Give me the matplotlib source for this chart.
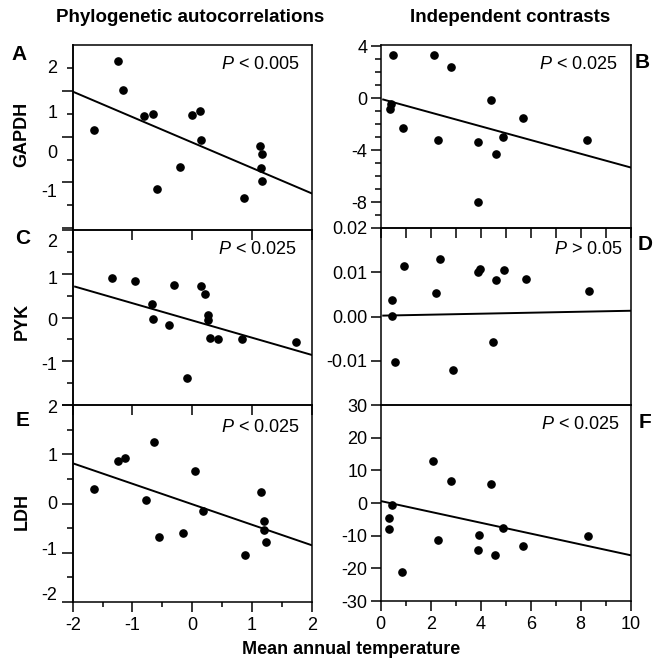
import matplotlib.pyplot as plt
import numpy as np

plt.rcParams['font.family'] = 'Liberation Sans'
plt.rcParams['font.size'] = 13
plt.rcParams['mathtext.fontset'] = 'custom'
plt.rcParams['mathtext.it'] = 'Liberation Sans:italic'
plt.rcParams['mathtext.rm'] = 'Liberation Sans'

# values
gapdh_phy_x = [-1.64, -1.25, -1.16, -0.80, -0.66, -0.59, -0.20, 0.00, 0.13, 0.15, 0.86, 1.13, 1.16, 1.15, 1.17]
gapdh_phy_y = [0.66, 2.17, 1.53, 0.96, 1.00, -0.64, -0.17, 0.97, 1.06, 0.43, -0.85, 0.29, 0.13, -0.19, -0.46]

gapdh_con_x = [0.48, 0.40, 0.38, 0.88, 2.12, 2.28, 2.83, 3.91, 3.88, 4.40, 4.61, 4.91, 5.69, 8.25]
gapdh_con_y = [3.31, -0.45, -0.86, -2.32, 3.36, -3.22, 2.41, -3.40, -8.00, -0.15, -4.32, -2.96, -1.53, -3.22]

pyk_phy_x = [-1.34, -0.95, -0.68, -0.66, -0.38, -0.30, -0.09, 0.15, 0.21, 0.27, 0.27, 0.30, 0.43, 0.84, 1.74]
pyk_phy_y = [0.91, 0.84, 0.32, -0.03, -0.16, 0.75, -1.38, 0.73, 0.54, 0.06, -0.06, -0.47, -0.50, -0.49, -0.57]

pyk_con_x = [0.47, 0.44, 0.57, 0.95, 2.20, 2.36, 2.88, 3.91, 3.97, 4.48, 4.63, 4.95, 5.80, 8.33]
pyk_con_y = [0.0037, 0.0001, -0.0103, 0.0115, 0.0054, 0.0131, -0.0122, 0.0100, 0.0107, -0.0057, 0.0083, 0.0105, 0.0085, 0.0057]

ldh_phy_x = [-1.64, -1.25, -1.13, -0.77, -0.64, -0.56, -0.15, 0.04, 0.18, 0.88, 1.15, 1.20, 1.20, 1.23]
ldh_phy_y = [0.30, 0.86, 0.92, 0.08, 1.25, -0.68, -0.60, 0.65, -0.16, -1.04, 0.23, -0.35, -0.53, -0.78]

ldh_con_x = [0.45, 0.35, 0.35, 0.85, 2.08, 2.29, 2.81, 3.89, 3.93, 4.40, 4.57, 4.89, 5.71, 8.28]
ldh_con_y = [-0.7, -4.5, -8.1, -21.0, 12.8, -11.2, 6.7, -14.3, -9.8, 5.9, -16.0, -7.8, -13.1, -10.2]

# regression lines: x start, x end, slope, intercept
fit_gapdh_phy = [-2.0, 2.0, -0.557, 0.376]
fit_gapdh_con = [0.1, 10.0, -0.529, -0.047]
fit_pyk_phy = [-1.96, 2.0, -0.394, -0.067]
fit_pyk_con = [0.1, 10.0, 0.000111, 0.00019]
fit_ldh_phy = [-2.0, 2.0, -0.416, -0.015]
fit_ldh_con = [0.0, 10.0, -1.66, 0.6]

p_labels = ['$P$ < 0.005', '$P$ < 0.025', '$P$ < 0.025', '$P$ > 0.05', '$P$ < 0.025', '$P$ < 0.025']

W, H = 662, 660
fig = plt.figure(figsize=(W / 100, H / 100), dpi=100)


def add_ax(x0, x1, y0, y1):
    ax = fig.add_axes([x0 / W, 1 - y1 / H, (x1 - x0) / W, (y1 - y0) / H])
    ax.patch.set_visible(False)
    for s in ax.spines.values():
        s.set_linewidth(1.1)
    return ax


def draw(ax, x, y, fit, ptxt, px, py):
    ax.plot(x, y, 'o', color='black', markersize=5.2, clip_on=False, zorder=3)
    xs = np.array(fit[:2])
    ax.plot(xs, fit[2] * xs + fit[3], color='black', lw=1.4)
    ax.text(px, py, ptxt, transform=ax.transAxes, ha='right', va='center', fontsize=13)


def left_y(ax, long_pos, short_pos, label_pos, labels):
    ax.set_yticks(label_pos, labels)
    ax.tick_params(axis='y', which='major', length=0, pad=11)
    ax.set_yticks(short_pos, minor=True)
    ax.tick_params(axis='y', which='minor', length=4.5, width=1.1)
    sec = ax.secondary_yaxis('left')
    sec.set_yticks(long_pos)
    sec.tick_params(length=8, width=1.1, labelleft=False)
    sec.spines['left'].set_linewidth(1.1)


xl0, xl1 = 72.7, 311.7
xr0, xr1 = 380.7, 630.7

axA = add_ax(xl0, xl1, 45, 230)
axB = add_ax(xr0, xr1, 45, 228)
axC = add_ax(xl0, xl1, 230, 405)
axD = add_ax(xr0, xr1, 228, 405)
axE = add_ax(xl0, xl1, 405, 602)
axF = add_ax(xr0, xr1, 405, 601)

draw(axA, gapdh_phy_x, gapdh_phy_y, fit_gapdh_phy, p_labels[0], 0.951, 0.897)
draw(axB, gapdh_con_x, gapdh_con_y, fit_gapdh_con, p_labels[1], 0.949, 0.891)
draw(axC, pyk_phy_x, pyk_phy_y, fit_pyk_phy, p_labels[2], 0.938, 0.886)
draw(axD, pyk_con_x, pyk_con_y, fit_pyk_con, p_labels[3], 0.969, 0.876)
draw(axE, ldh_phy_x, ldh_phy_y, fit_ldh_phy, p_labels[4], 0.951, 0.888)
draw(axF, ldh_con_x, ldh_con_y, fit_ldh_con, p_labels[5], 0.957, 0.903)

# left column
for ax in (axA, axC, axE):
    ax.set_xlim(-2, 2)
axA.set_ylim(-1.54, 2.51)
axC.set_ylim(-2, 2)
axE.set_ylim(-2, 2)

left_y(axA, [1.5, 0.5, -0.5, -1.5], [2, 1, 0, -1], [2.05, 1.05, 0.18, -0.68], ['2', '1', '0', '-1'])
left_y(axC, [2, 1, 0, -1, -2], [1.5, 0.5, -0.5, -1.5], [1.77, 0.92, -0.05, -1.05], ['2', '1', '0', '-1'])
left_y(axE, [2, 1, 0, -1, -2], [1.5, 0.5, -0.5, -1.5], [1.97, 1.0, 0.03, -0.92, -1.83], ['2', '1', '0', '-1', '-2'])

for ax in (axA, axC):
    ax.set_xticks([-2, -1, 0, 1, 2])
    ax.tick_params(axis='x', length=7, width=1.1, labelbottom=False)
axE.set_xticks([-2, -1, 0, 1, 2], ['-2', '-1', '0', '1', '2'])
axE.set_xticks([-1.5, -0.5, 0.5, 1.5], minor=True)
axE.tick_params(axis='x', which='major', length=7, width=1.1, pad=3.5)
axE.tick_params(axis='x', which='minor', length=3.5, width=1.1)

# right column
for ax in (axB, axD, axF):
    ax.set_xlim(0, 10)
axB.set_ylim(-10, 4.1)
axD.set_ylim(-0.02, 0.02)
axF.set_ylim(-30, 30)

axB.set_yticks([4, 0, -4, -8], ['4', '0', '-4', '-8'])
axB.set_yticks([3, 2, 1, -1, -2, -3, -5, -6, -7, -9], minor=True)
axD.set_yticks([0.02, 0.01, 0.0, -0.01], ['0.02', '0.01', '0.00', '-0.01'])
axF.set_yticks([30, 20, 10, 0, -10, -20, -30], ['30', '20', '10', '0', '-10', '-20', '-30'])
for ax in (axB, axD, axF):
    ax.tick_params(axis='y', which='major', length=7.5, width=1.1, pad=2)
    ax.tick_params(axis='y', which='minor', length=4, width=1.1)

axB.set_xticks(range(0, 11))
axB.tick_params(axis='x', length=7, width=1.1, labelbottom=False)
axD.set_xticks([])
axF.set_xticks([0, 2, 4, 6, 8, 10], ['0', '2', '4', '6', '8', '10'])
axF.set_xticks([1, 3, 5, 7, 9], minor=True)
axF.tick_params(axis='x', which='major', length=7, width=1.1, pad=3.5)
axF.tick_params(axis='x', which='minor', length=3.5, width=1.1)

# headings and labels
fig.text(190 / W, 1 - 17 / H, 'Phylogenetic autocorrelations', ha='center', va='center',
         fontsize=13.5, fontweight='bold')
fig.text(510 / W, 1 - 17 / H, 'Independent contrasts', ha='center', va='center',
         fontsize=13.5, fontweight='bold')
fig.text(351 / W, 1 - 650 / H, 'Mean annual temperature', ha='center', va='center',
         fontsize=13, fontweight='bold')

for t, (x, y) in zip('ABCDEF', [(19, 55), (642, 62), (23, 238), (645, 245), (23, 421), (645, 423)]):
    fig.text(x / W, 1 - y / H, t, ha='center', va='center', fontsize=15, fontweight='bold')

for t, y in zip(['GAPDH', 'PYK', 'LDH'], [134, 321, 512]):
    fig.text(22 / W, 1 - y / H, t, ha='center', va='center', rotation=90,
             fontsize=13, fontweight='bold')

fig.savefig('out.png', dpi=100)
